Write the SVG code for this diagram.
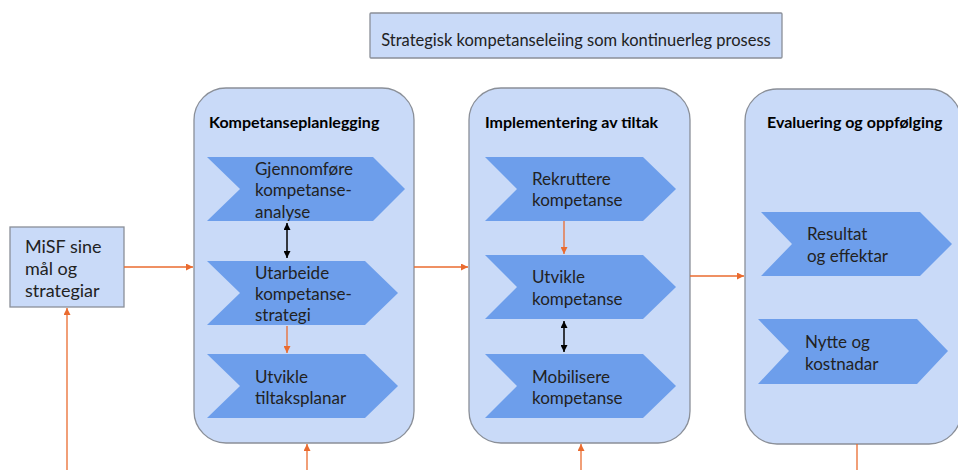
<svg xmlns="http://www.w3.org/2000/svg" width="958" height="470" viewBox="0 0 958 470">
<defs>
<marker id="oa" viewBox="0 0 10 10" refX="10" refY="5" markerWidth="7" markerHeight="7" markerUnits="userSpaceOnUse" orient="auto"><path d="M0,0L10,5L0,10z" fill="#ea6b2f"/></marker>
<marker id="ba" viewBox="0 0 10 10" refX="10" refY="5" markerWidth="7" markerHeight="7" markerUnits="userSpaceOnUse" orient="auto-start-reverse"><path d="M0,0L10,5L0,10z" fill="#000"/></marker>
</defs>
<style>
.box{fill:#c9daf8;stroke:#8a8f98;stroke-width:1.3}
.chev{fill:#6d9eeb}
.t{font-family:Lato,"Liberation Sans",sans-serif;fill:#222}
.s{font-size:17px}
.h{font-size:16px;font-weight:bold;fill:#000}
.o{stroke:#ea6b2f;stroke-width:1.3;fill:none}
.k{stroke:#000;stroke-width:1.5;fill:none}
</style>
<rect width="958" height="470" fill="#fff"/>
<g id="title">
<rect class="box" x="370" y="13" width="412" height="45" rx="1"/>
<text class="t" x="576" y="46" font-size="16.5" text-anchor="middle">Strategisk kompetanseleiing som kontinuerleg prosess</text>
</g>
<g id="misf">
<rect class="box" x="10" y="227" width="114" height="80"/>
<text class="t" x="25" font-size="18"><tspan x="25" y="253">MiSF sine</tspan><tspan x="25" y="275">mål og</tspan><tspan x="25" y="297">strategiar</tspan></text>
</g>
<g id="planlegging">
<rect class="box" x="194" y="88" width="220" height="355" rx="32"/>
<text class="t h" x="209" y="128">Kompetanseplanlegging</text>
<polygon class="chev" points="207,157 373,157 405,189 373,221 207,221 240,189"/>
<text class="t s"><tspan x="255" y="175">Gjennomføre</tspan><tspan x="255" y="196">kompetanse-</tspan><tspan x="255" y="218">analyse</tspan></text>
<polygon class="chev" points="207,261 365,261 398,293 365,325 207,325 240,293"/>
<text class="t s"><tspan x="255" y="279">Utarbeide</tspan><tspan x="255" y="300">kompetanse-</tspan><tspan x="255" y="321">strategi</tspan></text>
<polygon class="chev" points="207,354 365,354 398,386 365,418 207,418 240,386"/>
<text class="t s"><tspan x="255" y="383">Utvikle</tspan><tspan x="255" y="404">tiltaksplanar</tspan></text>
</g>
<g id="implementering">
<rect class="box" x="469" y="88" width="221" height="355" rx="32"/>
<text class="t h" x="485" y="128">Implementering av tiltak</text>
<polygon class="chev" points="485,157 643,157 676,189 643,221 485,221 517,189"/>
<text class="t s"><tspan x="532" y="185">Rekruttere</tspan><tspan x="532" y="206">kompetanse</tspan></text>
<polygon class="chev" points="485,255 643,255 676,287 643,319 485,319 517,287"/>
<text class="t s"><tspan x="532" y="283">Utvikle</tspan><tspan x="532" y="305">kompetanse</tspan></text>
<polygon class="chev" points="485,354 643,354 676,386 643,418 485,418 517,386"/>
<text class="t s"><tspan x="532" y="383">Mobilisere</tspan><tspan x="532" y="404">kompetanse</tspan></text>
</g>
<g id="evaluering">
<rect class="box" x="745" y="89" width="216" height="355" rx="32"/>
<text class="t h" x="767" y="128">Evaluering og oppfølging</text>
<polygon class="chev" points="761,212 920,212 952,244 920,276 761,276 792,244"/>
<text class="t s"><tspan x="807" y="240">Resultat</tspan><tspan x="807" y="262">og effektar</tspan></text>
<polygon class="chev" points="758,319 917,319 948,351 917,384 758,384 789,351"/>
<text class="t s"><tspan x="805" y="348">Nytte og</tspan><tspan x="805" y="370">kostnadar</tspan></text>
</g>
<g id="connectors">
<line class="o" x1="124" y1="267" x2="193" y2="267" marker-end="url(#oa)"/>
<line class="o" x1="67" y1="470" x2="67" y2="308" marker-end="url(#oa)"/>
<line class="o" x1="414" y1="267" x2="468" y2="267" marker-end="url(#oa)"/>
<line class="o" x1="690" y1="276" x2="744" y2="276" marker-end="url(#oa)"/>
<line class="o" x1="307" y1="470" x2="307" y2="444" marker-end="url(#oa)"/>
<line class="o" x1="581" y1="470" x2="581" y2="444" marker-end="url(#oa)"/>
<line class="o" x1="857" y1="444" x2="857" y2="470"/>
<line class="o" x1="287" y1="326" x2="287" y2="353" marker-end="url(#oa)"/>
<line class="o" x1="564" y1="221" x2="564" y2="254" marker-end="url(#oa)"/>
<line class="k" x1="287" y1="223" x2="287" y2="258" marker-start="url(#ba)" marker-end="url(#ba)"/>
<line class="k" x1="564" y1="321" x2="564" y2="352" marker-start="url(#ba)" marker-end="url(#ba)"/>
</g>
</svg>
